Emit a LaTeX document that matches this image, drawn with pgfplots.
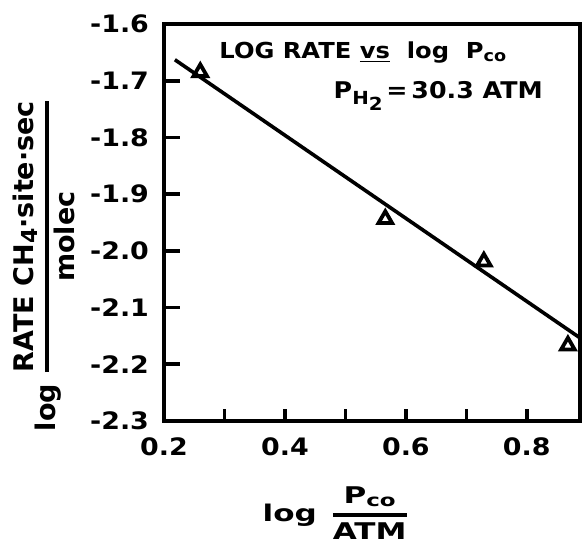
\documentclass[border=0pt]{standalone}
\usepackage{pgfplots}
\pgfplotsset{compat=1.18}
\usepackage{fontspec}
\setmainfont{DejaVu Sans}
\newfontfamily\tickf[FakeStretch=1.12]{DejaVu Sans}
\newfontfamily\titf[FakeStretch=1.1]{DejaVu Sans}
\newfontfamily\xlf[FakeStretch=1.35]{DejaVu Sans}
\newcommand\tlbl{\tickf\bfseries\fontsize{12}{14}\selectfont}
% fraction built from a tabular, thick bar
\newcommand\frc[2]{{\setlength\arrayrulewidth{1.6pt}\begin{tabular}{@{}c@{}}#1\\[1pt]\hline\noalign{\vskip 2pt}#2\end{tabular}}}
\begin{document}
\begin{tikzpicture}
\begin{axis}[
  at={(0,0)}, anchor=south west,
  scale only axis, width=208pt, height=198.5pt,
  xmin=0.2, xmax=0.888, ymin=-2.3, ymax=-1.6,
  axis line style={line width=2pt},
  tick align=inside,
  xtick={0.2,0.4,0.6,0.8}, minor xtick={0.3,0.5,0.7},
  xticklabels={0.2,0.4,0.6,0.8},
  ytick={-2.3,-2.2,-2.1,-2.0,-1.9,-1.8,-1.7,-1.6},
  yticklabels={-2.3,-2.2,-2.1,-2.0,-1.9,-1.8,-1.7,-1.6},
  xtick pos=bottom, ytick pos=left,
  major tick length=8pt, minor tick length=6pt,
  xtick style={/pgfplots/major tick length=6pt},
  every tick/.append style={line width=1.8pt, black},
  tick label style={font=\tlbl},
  xticklabel style={yshift=-5pt},
  yticklabel style={xshift=-4pt},
  clip=false,
]
\addplot[no marks, line width=1.8pt] coordinates {(0.218,-1.663) (0.886,-2.152)};
\addplot[only marks, mark=triangle, mark size=3.9pt, mark options={line width=1.9pt}]
  coordinates {(0.26,-1.685) (0.566,-1.944) (0.729,-2.019) (0.868,-2.167)};

\node[anchor=base west, font=\titf\bfseries\fontsize{11}{13}\selectfont] at (axis cs:0.28,-1.66)
  {LOG RATE \underline{vs}\ \ log\ \ P\raisebox{-1.5pt}{\fontsize{8}{9}\selectfont co}};
\node[anchor=base west, font=\titf\bfseries\fontsize{11.5}{14}\selectfont] at (axis cs:0.469,-1.732)
  {P\raisebox{-3pt}{\fontsize{9}{10}\selectfont H\raisebox{-3pt}{2}}\,=\,30.3 ATM};
\node[rotate=90, font=\bfseries\fontsize{13.5}{16}\selectfont] at ([xshift=-58pt]rel axis cs:0,0.39)
  {log\hspace{6pt}\frc{RATE CH\raisebox{-2pt}{\fontsize{11}{12}\selectfont 4}·site·sec}{molec}};
\node[font=\xlf\bfseries\fontsize{11.5}{13.5}\selectfont] at ([yshift=-47.5pt]rel axis cs:0.41,0)
  {log\hspace{8pt}\frc{P\raisebox{-1.5pt}{\fontsize{8.5}{9}\selectfont co}}{ATM}};
\end{axis}
\pgfresetboundingbox
\path[use as bounding box] (-82pt,-64.5pt) rectangle (209.5pt,210.5pt);
\end{tikzpicture}
\end{document}
